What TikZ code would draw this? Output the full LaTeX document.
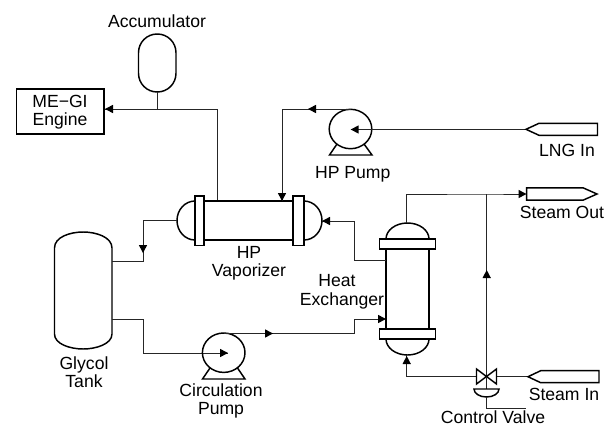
\documentclass[tikz,border=0pt]{standalone}
\usepackage{fontspec}
\setmainfont{Liberation Sans}
\usetikzlibrary{arrows.meta}
\tikzset{
  vessel/.style={draw=black,line width=1.1pt,fill=white},
  pipe/.style={draw=black!85,line width=0.75pt},
  lbl/.style={inner sep=0pt,anchor=base,font=\fontsize{13.2pt}{14pt}\selectfont,align=center}
}
\newcommand{\arrowtip}[2]{\fill[black,shift={(#1)},rotate=#2] (0,0) -- (-8,-4.2) -- (-8,4.2) -- cycle;}
\begin{document}
\begin{tikzpicture}[x=0.75pt,y=-0.75pt]
\useasboundingbox (0,0) rectangle (613,425);
\coordinate (j1) at (217,109);
\coordinate (j2) at (157,109);
\coordinate (hpv) at (217,201);
\coordinate (pumpTop) at (350.5,109);
\coordinate (c1) at (282,109);
\coordinate (c2) at (282,201);
\coordinate (vl) at (177,220.5);
\coordinate (v2) at (143,220.5);
\coordinate (v3) at (143,261);
\coordinate (t1) at (112,261);
\coordinate (t2) at (112,319);
\coordinate (t3) at (143,319);
\coordinate (t4) at (143,353);
\coordinate (cpc) at (228,353);
\coordinate (cpTop) at (224,333.5);
\coordinate (hx1) at (386,260.5);
\coordinate (hx2) at (354,260.5);
\coordinate (hx3) at (354,221);
\coordinate (vr) at (322,221);
\coordinate (hxTop) at (406.5,223);
\coordinate (so1) at (406.5,194);
\coordinate (sj) at (486.7,194);
\coordinate (valve) at (486.7,376.7);
\coordinate (hxBot) at (406.7,355);
\coordinate (hb1) at (406.7,376.7);
\coordinate (act) at (486.7,397);
\coordinate (act1) at (486.7,408);
\coordinate (act2) at (525.6,408);
% accumulator and engine
\draw[vessel,rounded corners=14pt] (138.5,34) rectangle (176,92);
\node[draw=black,line width=1.1pt,minimum width=65.6pt,minimum height=33.75pt,inner sep=0pt] (eng) at (60.3,111.5) {};
\node[lbl] (eng1) at (60,107.5) {ME{\textminus}GI};
\node[lbl] (eng2) at (60,125.5) {Engine};
\draw[pipe] (157,92) -- (j2);
\draw[pipe] (hpv) -- (j1) -- (eng.east |- j1);
\arrowtip{105,109}{180}
% HP vaporizer
\draw[vessel] (195,201) arc[start angle=270,end angle=90,x radius=18,y radius=19.5];
\draw[vessel] (304,201) arc[start angle=-90,end angle=90,x radius=18,y radius=19.5];
\draw[vessel] (204,201) rectangle (293,240);
\draw[vessel] (195,196) rectangle (204,245.5);
\draw[vessel] (293,196) rectangle (304,245.5);
% glycol tank
\draw[vessel] (54.5,248) .. controls (54.5,237) and (70,232) .. (83.2,232) .. controls (96,232) and (112,237) .. (112,248) -- (112,334) .. controls (112,344) and (96,349) .. (83.2,349) .. controls (70,349) and (54.5,344) .. (54.5,334) -- cycle;
% pipes
\draw[pipe] (vl) -- (v2) -- (v3) -- (t1);
\arrowtip{143,253}{-90}
\draw[pipe] (t2) -- (t3) -- (t4) -- (cpc);
% pumps
\draw[vessel] (210,368) -- (202.5,379) -- (245,379) -- (237.5,368);
\draw[vessel,fill=none] (223.7,352.7) ellipse[x radius=21.3,y radius=19.7];
\arrowtip{228,353}{0}
\draw[pipe] (cpTop) -- (354,333.5) -- (354,319) -- (380,319);
\arrowtip{273,333.5}{0}
\arrowtip{386,319}{0}
\draw[vessel] (337,144) -- (329.5,155) -- (372,155) -- (364,144);
\draw[vessel,fill=none] (350.5,129) ellipse[x radius=21.3,y radius=19.7];
\draw[pipe] (pumpTop) -- (c1) -- (c2);
\arrowtip{308,109}{180}
\arrowtip{282,201}{-90}
\draw[pipe] (526,129.5) -- (356,129.5);
\arrowtip{350.7,129.5}{180}
% heat exchanger
\draw[vessel] (386,239) arc[start angle=180,end angle=360,x radius=21.5,y radius=16];
\draw[vessel] (386,339) arc[start angle=180,end angle=0,x radius=21.5,y radius=16];
\draw[vessel] (386,249) rectangle (429,329);
\draw[vessel] (379.5,239) rectangle (435.7,249);
\draw[vessel] (379.5,329) rectangle (435.7,339);
\draw[pipe] (hx1) -- (hx2) -- (hx3) -- (vr);
\arrowtip{322,221}{180}
\draw[pipe] (hxTop) -- (so1) -- (sj) -- (521,194);
\arrowtip{526.5,194}{0}
\draw[pipe] (sj) -- (valve);
\arrowtip{486.7,270}{90}
\draw[pipe] (hb1) -- (hxBot);
\arrowtip{406.7,356}{90}
\draw[pipe] (hb1) -- (476,376.7);
\draw[pipe] (496.7,376.7) -- (528,376.7);
% valve
\draw[vessel] (476.5,369) -- (496.5,384) -- (496.5,369) -- (476.5,384) -- cycle;
\draw[pipe] (valve) -- (486.7,389);
\draw[vessel] (474,389) -- (499,389) arc[start angle=0,end angle=180,x radius=12.5,y radius=8] -- cycle;
\draw[pipe] (act) -- (act1) -- (act2);
% connectors
\draw[vessel] (526,129.3) -- (539,123.3) -- (597.5,123.3) -- (597.5,135.3) -- (539,135.3) -- cycle;
\draw[vessel] (526.7,187.8) -- (583,187.8) -- (597,194) -- (583,200.2) -- (526.7,200.2) -- cycle;
\draw[vessel] (528,376.7) -- (540.7,370.7) -- (599,370.7) -- (599,382.7) -- (540.7,382.7) -- cycle;
% labels
\node[lbl] (a) at (157,27.7) {Accumulator};
\node[lbl] (b) at (352.7,178) {HP Pump};
\node[lbl] (c) at (567,156) {LNG In};
\node[lbl] (d) at (562,218) {Steam Out};
\node[lbl] (e) at (337,286.5) {Heat};
\node[lbl] (f) at (342,305) {Exchanger};
\node[lbl] (g) at (249,258.5) {HP};
\node[lbl] (h) at (249,276.7) {Vaporizer};
\node[lbl] (i) at (84,369) {Glycol};
\node[lbl] (j) at (84,387) {Tank};
\node[lbl] (k) at (221,396) {Circulation};
\node[lbl] (l) at (221,414) {Pump};
\node[lbl] (m) at (564,400.7) {Steam In};
\node[lbl] (n) at (493,423) {Control Valve};
\end{tikzpicture}
\end{document}
